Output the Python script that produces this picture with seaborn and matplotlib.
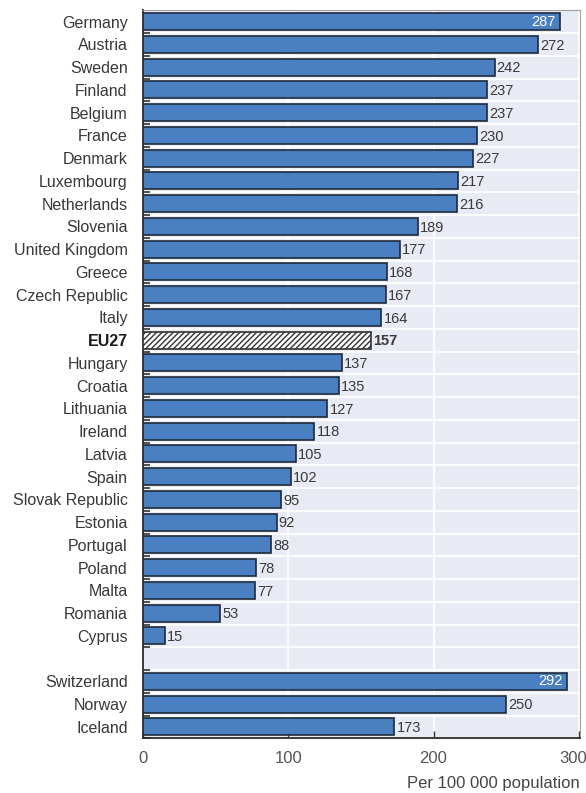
import matplotlib
matplotlib.use("Agg")
import matplotlib.pyplot as plt
from matplotlib import font_manager
from matplotlib.transforms import ScaledTranslation
import seaborn as sns
import pandas as pd
import numpy as np

countries = ["Germany", "Austria", "Sweden", "Finland", "Belgium", "France", "Denmark",
             "Luxembourg", "Netherlands", "Slovenia", "United Kingdom", "Greece",
             "Czech Republic", "Italy", "EU27", "Hungary", "Croatia", "Lithuania",
             "Ireland", "Latvia", "Spain", "Slovak Republic", "Estonia", "Portugal",
             "Poland", "Malta", "Romania", "Cyprus",
             "Switzerland", "Norway", "Iceland"]
values = [287, 272, 242, 237, 237, 230, 227, 217, 216, 189, 177, 168, 167, 164, 157,
          137, 135, 127, 118, 105, 102, 95, 92, 88, 78, 77, 53, 15,
          292, 250, 173]
xticks = [0, 100, 200, 300]
xlabel = "Per 100 000 population"

sns.set_theme(style="white")
names = {f.name for f in font_manager.fontManager.ttflist}
family = "Liberation Sans Narrow" if "Liberation Sans Narrow" in names else "Liberation Sans"
plt.rcParams["font.family"] = [family, "DejaVu Sans"]

df = pd.DataFrame({"country": countries, "value": values})
order = countries[:28] + [" "] + countries[28:]

fig = plt.figure(figsize=(5.86, 7.93), dpi=100)
ax = fig.add_axes([0.244, 0.069, 0.745, 0.918])
ax.set_facecolor("#e8eaf4")

bar_color = "#4a7fc1"
sns.barplot(data=df, x="value", y="country", order=order, orient="h",
            color=bar_color, saturation=1, width=0.75,
            edgecolor="#1f2a3a", linewidth=1.2, ax=ax, zorder=3)

# EU27 bar: white with diagonal hatching
for patch, name in zip(ax.patches, [c for c in order if c != " "]):
    if name == "EU27":
        patch.set_facecolor("white")
        patch.set_hatch("//////")
        patch.set_edgecolor("#333333")

# value labels
pos = {c: i for i, c in enumerate(order)}
for name, v in zip(countries, values):
    y = pos[name]
    if v >= 280:
        ax.text(v - 3, y, str(v), ha="right", va="center", color="white",
                fontsize=10.5, zorder=4)
    else:
        ax.text(v + 1.5, y + 0.05, str(v), ha="left", va="center", color="#3a3a3a",
                fontsize=10.5, fontweight="bold" if name == "EU27" else "normal", zorder=4)

ax.set_xlim(0, 300.5)
ax.set_ylim(len(order) - 0.5, -0.5)

# separators between rows and vertical gridlines
ax.set_yticks(np.arange(len(order)) + 0.5, minor=True)
ax.grid(True, which="minor", axis="y", color="white", linewidth=1.3, zorder=1)
ax.set_xticks(xticks)
ax.grid(True, which="major", axis="x", color="white", linewidth=1.3, zorder=1)
ax.set_axisbelow(True)

ax.tick_params(axis="y", which="minor", direction="in", length=5, width=1.2,
               color="#333333", left=True)
ax.tick_params(axis="y", which="major", length=0, labelsize=11.5, labelcolor="#383838", pad=11)
ax.tick_params(axis="x", which="major", direction="in", length=5, width=1,
               color="#333333", bottom=True, labelsize=12, labelcolor="#555555", pad=9)

for lbl in ax.get_yticklabels():
    if lbl.get_text() == "EU27":
        lbl.set_fontweight("bold")
        lbl.set_color("#1a1a1a")

# keep the last x tick label inside the figure
last = ax.get_xticklabels()[-1]
last.set_transform(last.get_transform() + ScaledTranslation(-6 / 100, 0, fig.dpi_scale_trans))

ax.set_ylabel("")
ax.set_xlabel("")
for side in ["left", "bottom"]:
    ax.spines[side].set_color("#2b2b2b")
    ax.spines[side].set_linewidth(1.3)
for side in ["top", "right"]:
    ax.spines[side].set_color("#a0a0a0")
    ax.spines[side].set_linewidth(0.8)

fig.text(0.99, 0.003, xlabel, ha="right", va="bottom", fontsize=12, color="#444444")

fig.savefig("out.png", dpi=100, facecolor="white")
